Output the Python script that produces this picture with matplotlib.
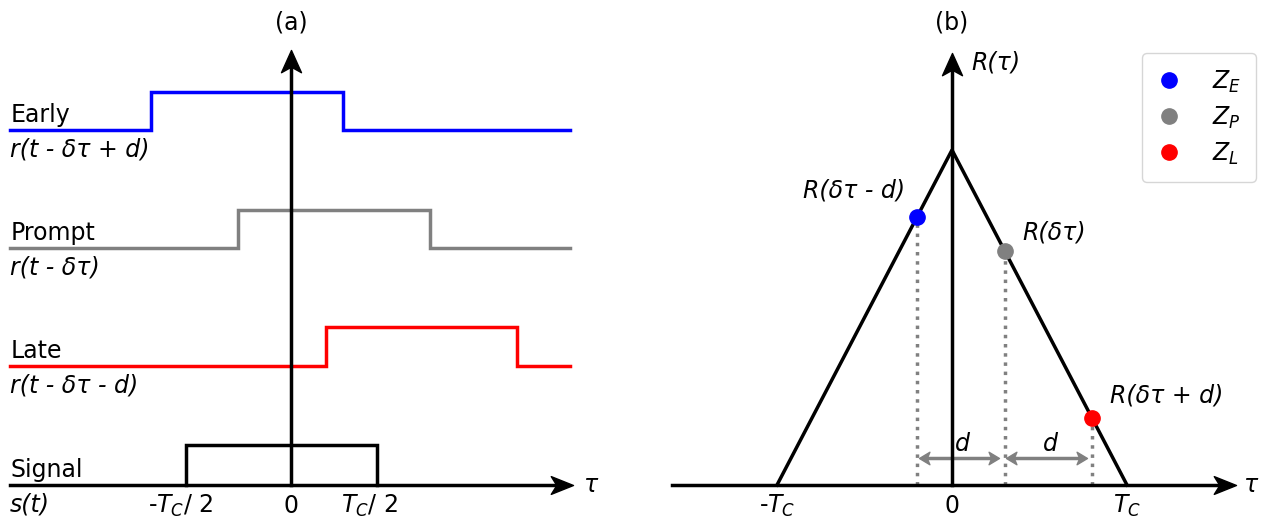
import numpy as np
import matplotlib
matplotlib.use("Agg")
import matplotlib.pyplot as plt
from matplotlib.path import Path
from matplotlib.lines import Line2D

plt.rcParams['font.family'] = 'DejaVu Sans'
plt.rcParams['mathtext.fontset'] = 'dejavusans'

# ---- panel (a): code replicas, x in chips (relative to the axis), y in levels
chanNames = ["Early", "Prompt", "Late"]
chanFormulas = ["r(t - δτ + d)", "r(t - δτ)", "r(t - δτ - d)"]
chanColors = ["#0000ff", "#808080", "#ff0000"]
chanRise = [-0.735, -0.277, 0.183]
chanFall = [0.272, 0.728, 1.183]
chanLow = [9.03, 6.03, 3.03]
chanHigh = [10.0, 7.0, 4.01]

sigRise = -0.55
sigFall = 0.45
sigHigh = 1.02

lineStart = -1.47
lineEnd = 1.46
axisEndA = 1.476
axisTopA = 11.07
tickPosA = [-0.58, 0.0, 0.41]
tickLabA = [r"-$T_C$/ 2", "0", r"$T_C$/ 2"]

# ---- panel (b): correlation triangle, x in chips
triX = [-1.0, 0.0, 1.0]
triY = [0.0, 1.0, 0.0]
ptX = [-0.2, 0.3, 0.8]
ptY = [0.8, 0.7, 0.2]
ptColors = ["#0000ff", "#808080", "#ff0000"]
ptNames = [r"$Z_E$", r"$Z_P$", r"$Z_L$"]
ptLabels = ["R(δτ - d)", "R(δτ)", "R(δτ + d)"]
tickPosB = [-1.0, 0.0, 1.0]
tickLabB = [r"-$T_C$", "0", r"$T_C$"]
axisStartB = -1.6
axisEndB = 1.62
axisTopB = 1.29

fs = 17
lw = 2.5


def head(angle, w=0.4):
    # notched arrow head, tip at origin
    v = np.array([[0, 0], [-1, w], [-0.75, 0], [-1, -w], [0, 0]])
    a = np.deg2rad(angle)
    rot = np.array([[np.cos(a), -np.sin(a)], [np.sin(a), np.cos(a)]])
    v = v @ rot.T
    codes = [Path.MOVETO, Path.LINETO, Path.LINETO, Path.LINETO, Path.CLOSEPOLY]
    return Path(v, codes)


W, H = 1268, 521
fig = plt.figure(figsize=(12.68, 5.21), dpi=100)

# panel (a): origin at pixel (291, 485), 191 px per chip, 39.3 px per level
axA = fig.add_axes([0, 0, 620 / W, 1])
axA.set_xlim(-291 / 191, (620 - 291) / 191)
axA.set_ylim(-(H - 485) / 39.3, 485 / 39.3)
axA.axis('off')

for i in range(3):
    xs = [lineStart, chanRise[i], chanRise[i], chanFall[i], chanFall[i], lineEnd]
    ys = [chanLow[i], chanLow[i], chanHigh[i], chanHigh[i], chanLow[i], chanLow[i]]
    axA.plot(xs, ys, color=chanColors[i], lw=lw, solid_joinstyle='miter', zorder=2)
    axA.text(lineStart, chanLow[i] + 0.2, chanNames[i], fontsize=fs, ha='left', va='baseline')
    axA.text(lineStart, chanLow[i] - 0.2, chanFormulas[i], fontsize=fs, style='italic',
             ha='left', va='top')

axA.plot([sigRise, sigRise, sigFall, sigFall], [0, sigHigh, sigHigh, 0], color='k', lw=lw,
         solid_joinstyle='miter', zorder=2)
axA.text(lineStart, 0.2, "Signal", fontsize=fs, ha='left', va='baseline')
axA.text(lineStart, -0.2, "s(t)", fontsize=fs, style='italic', ha='left', va='top')

axA.plot([lineStart, axisEndA - 0.05], [0, 0], color='k', lw=lw, zorder=3)
axA.plot([0, 0], [0, axisTopA - 0.3], color='k', lw=lw, zorder=3)
axA.plot([axisEndA], [0], marker=head(0), ms=32, color='k', zorder=4)
axA.plot([0], [axisTopA], marker=head(90, 0.45), ms=32, color='k', zorder=4)
axA.text(axisEndA + 0.06, 0, "τ", fontsize=fs, style='italic', ha='left', va='center')
for p, lab in zip(tickPosA, tickLabA):
    axA.text(p, -28 / 39.3, lab, fontsize=fs, ha='center', va='baseline')
axA.text(0, 11.78, "(a)", fontsize=fs, ha='center', va='center')

# panel (b): origin at pixel (952, 485), 175 px per chip, 335 px per unit R
axB = fig.add_axes([640 / W, 0, (W - 640) / W, 1])
axB.set_xlim((640 - 952) / 175, (W - 952) / 175)
axB.set_ylim(-(H - 485) / 335, 485 / 335)
axB.axis('off')

axB.plot(triX, triY, color='k', lw=lw, zorder=2)
axB.plot([axisStartB, axisEndB - 0.05], [0, 0], color='k', lw=lw, zorder=3)
axB.plot([0, 0], [0, axisTopB - 0.03], color='k', lw=lw, zorder=3)
axB.plot([axisEndB], [0], marker=head(0), ms=32, color='k', zorder=4)
axB.plot([0], [axisTopB], marker=head(90, 0.45), ms=32, color='k', zorder=4)
axB.text(axisEndB + 0.05, 0, "τ", fontsize=fs, style='italic', ha='left', va='center')
axB.text(0.11, axisTopB - 0.03, "R(τ)", fontsize=fs, style='italic', ha='left', va='center')
for p, lab in zip(tickPosB, tickLabB):
    axB.text(p, -28 / 335, lab, fontsize=fs, ha='center', va='baseline')
axB.text(0, 1.382, "(b)", fontsize=fs, ha='center', va='center')

for i in range(3):
    axB.plot([ptX[i], ptX[i]], [0, ptY[i]], color='#808080', lw=lw, ls=':', zorder=1)
    axB.plot([ptX[i]], [ptY[i]], 'o', color=ptColors[i], ms=11, zorder=5)

axB.text(ptX[0] - 0.07, ptY[0] + 0.08, ptLabels[0], fontsize=fs, style='italic',
         ha='right', va='center')
axB.text(ptX[1] + 0.1, ptY[1] + 0.055, ptLabels[1], fontsize=fs, style='italic',
         ha='left', va='center')
axB.text(ptX[2] + 0.1, ptY[2] + 0.066, ptLabels[2], fontsize=fs, style='italic',
         ha='left', va='center')

# spacing arrows d
arrY = 27 / 335
for a, b in [(ptX[0], ptX[1]), (ptX[1], ptX[2])]:
    x0, x1 = a + 0.01, b - 0.03
    axB.plot([x0 + 0.03, x1 - 0.03], [arrY, arrY], color='#808080', lw=lw, zorder=2)
    axB.plot([x0], [arrY], marker=head(180, 0.6), ms=15, color='#808080', zorder=3)
    axB.plot([x1], [arrY], marker=head(0, 0.6), ms=15, color='#808080', zorder=3)
    axB.text((a + b) / 2 + 0.01, arrY + 0.02, "d", fontsize=fs, style='italic', ha='center',
             va='baseline')

handles = [Line2D([], [], ls='none', marker='o', ms=11, color=c) for c in ptColors]
fig.legend(handles, ptNames, loc='upper right', bbox_to_anchor=(1256 / W, 1 - 53 / H),
           fontsize=fs, handlelength=1.0, handletextpad=1.3, borderpad=0.65,
           labelspacing=0.42, borderaxespad=0, frameon=True)

fig.savefig("out.png", dpi=100)
